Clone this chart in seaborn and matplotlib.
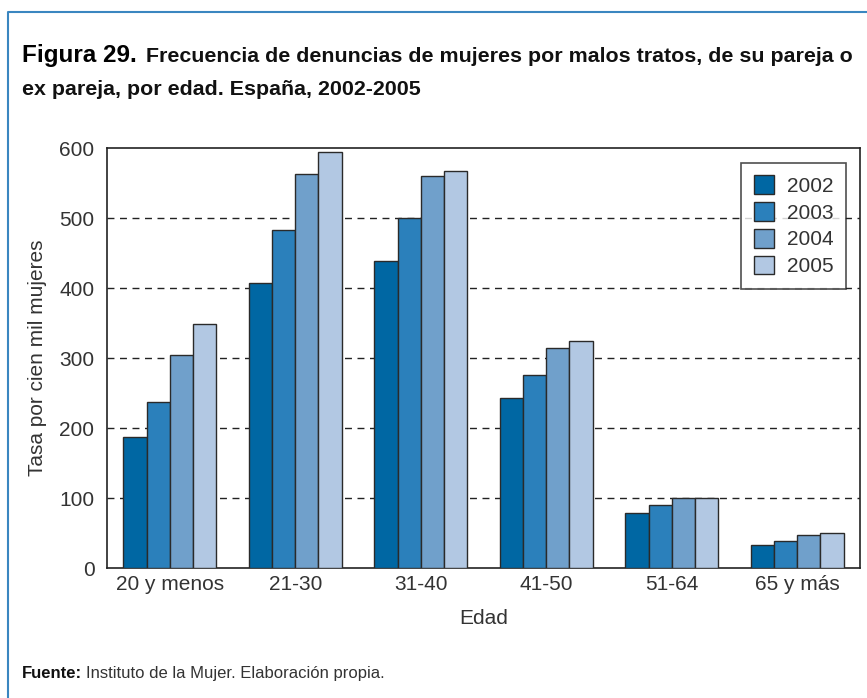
import matplotlib
matplotlib.use("Agg")
import matplotlib.pyplot as plt
import seaborn as sns
import pandas as pd
from matplotlib.lines import Line2D

categories = ["20 y menos", "21-30", "31-40", "41-50", "51-64", "65 y más"]
years = ["2002", "2003", "2004", "2005"]
v2002 = [187, 407, 439, 243, 79, 33]
v2003 = [237, 483, 500, 276, 90, 39]
v2004 = [304, 563, 560, 314, 100, 47]
v2005 = [349, 594, 567, 324, 100, 50]
yticks = [0, 100, 200, 300, 400, 500, 600]
colors = ["#0067a3", "#2b80bb", "#70a0cb", "#b2c8e3"]

rows = []
for yr, vals in zip(years, [v2002, v2003, v2004, v2005]):
    for c, v in zip(categories, vals):
        rows.append({"Edad": c, "Tasa": v, "Año": yr})
df = pd.DataFrame(rows)

sns.set_theme(style="white")
plt.rcParams["font.family"] = ["Liberation Sans", "DejaVu Sans"]
txt = "#333333"

fig = plt.figure(figsize=(8.67, 6.98), dpi=100)
ax = fig.add_axes([107/867, 1-568/698, (860-107)/867, (568-148)/698])

sns.barplot(data=df, x="Edad", y="Tasa", hue="Año", order=categories,
            hue_order=years, palette=colors, saturation=1, edgecolor="#2a2a2a",
            linewidth=1.0, width=0.74, ax=ax, zorder=3, legend=True)

ax.set_ylim(0, 600)
ax.set_xlim(-0.5, len(categories) - 0.5)
ax.set_yticks(yticks)
ax.set_yticklabels([str(t) for t in yticks], fontsize=15, color=txt)
ax.tick_params(axis="y", direction="out", length=4, width=1, color="#222222", pad=5)
ax.tick_params(axis="x", which="major", length=0, labelsize=15, labelcolor=txt, pad=5)
ax.set_xticks([i + 0.5 for i in range(len(categories) - 1)], minor=True)
ax.tick_params(axis="x", which="minor", direction="in", length=8, width=1, color="#222222")
for y in yticks[1:-1]:
    ax.axhline(y, color="#222222", lw=1, ls=(0, (5, 4)), zorder=1)
for s in ax.spines.values():
    s.set_visible(True)
    s.set_color("#222222")
    s.set_linewidth(1.2)
ax.set_xlabel("Edad", fontsize=15, color=txt, labelpad=11)
ax.set_ylabel("Tasa por cien mil mujeres", fontsize=15, color=txt, labelpad=9)

leg = ax.legend(loc="upper right", bbox_to_anchor=((846-107)/753, (568-163)/420),
                fontsize=15, frameon=True, fancybox=False, edgecolor="#222222",
                handlelength=1.0, handleheight=1.0, labelspacing=0.3,
                borderpad=0.6, handletextpad=0.6, borderaxespad=0)
leg.get_frame().set_linewidth(1.2)
for t in leg.get_texts():
    t.set_color(txt)

# frame lines
fx = 8/867
fy = 1 - 12/698
fig.add_artist(Line2D([fx, fx, 1.0], [0, fy, fy], color="#3a86c0", lw=1.5,
                      transform=fig.transFigure))

# title
t1 = fig.text(22/867, 1-62/698, "Figura 29.", fontsize=17.5, fontweight="bold",
              color="black", va="baseline", ha="left")
fig.canvas.draw()
bb = t1.get_window_extent()
fig.text((bb.x1 + 9)/867, 1-62/698,
         "Frecuencia de denuncias de mujeres por malos tratos, de su pareja o",
         fontsize=15.4, fontweight="bold", color="#111111", va="baseline", ha="left")
fig.text(22/867, 1-95/698, "ex pareja, por edad. España, 2002-2005",
         fontsize=15.4, fontweight="bold", color="#111111", va="baseline", ha="left")

# source
f1 = fig.text(22/867, 1-678/698, "Fuente:", fontsize=12, fontweight="bold",
              color="#111111", va="baseline", ha="left")
fig.canvas.draw()
bb = f1.get_window_extent()
fig.text((bb.x1 + 4)/867, 1-678/698, "Instituto de la Mujer. Elaboración propia.",
         fontsize=12, color="#333333", va="baseline", ha="left")

fig.savefig("out.png", dpi=100)
